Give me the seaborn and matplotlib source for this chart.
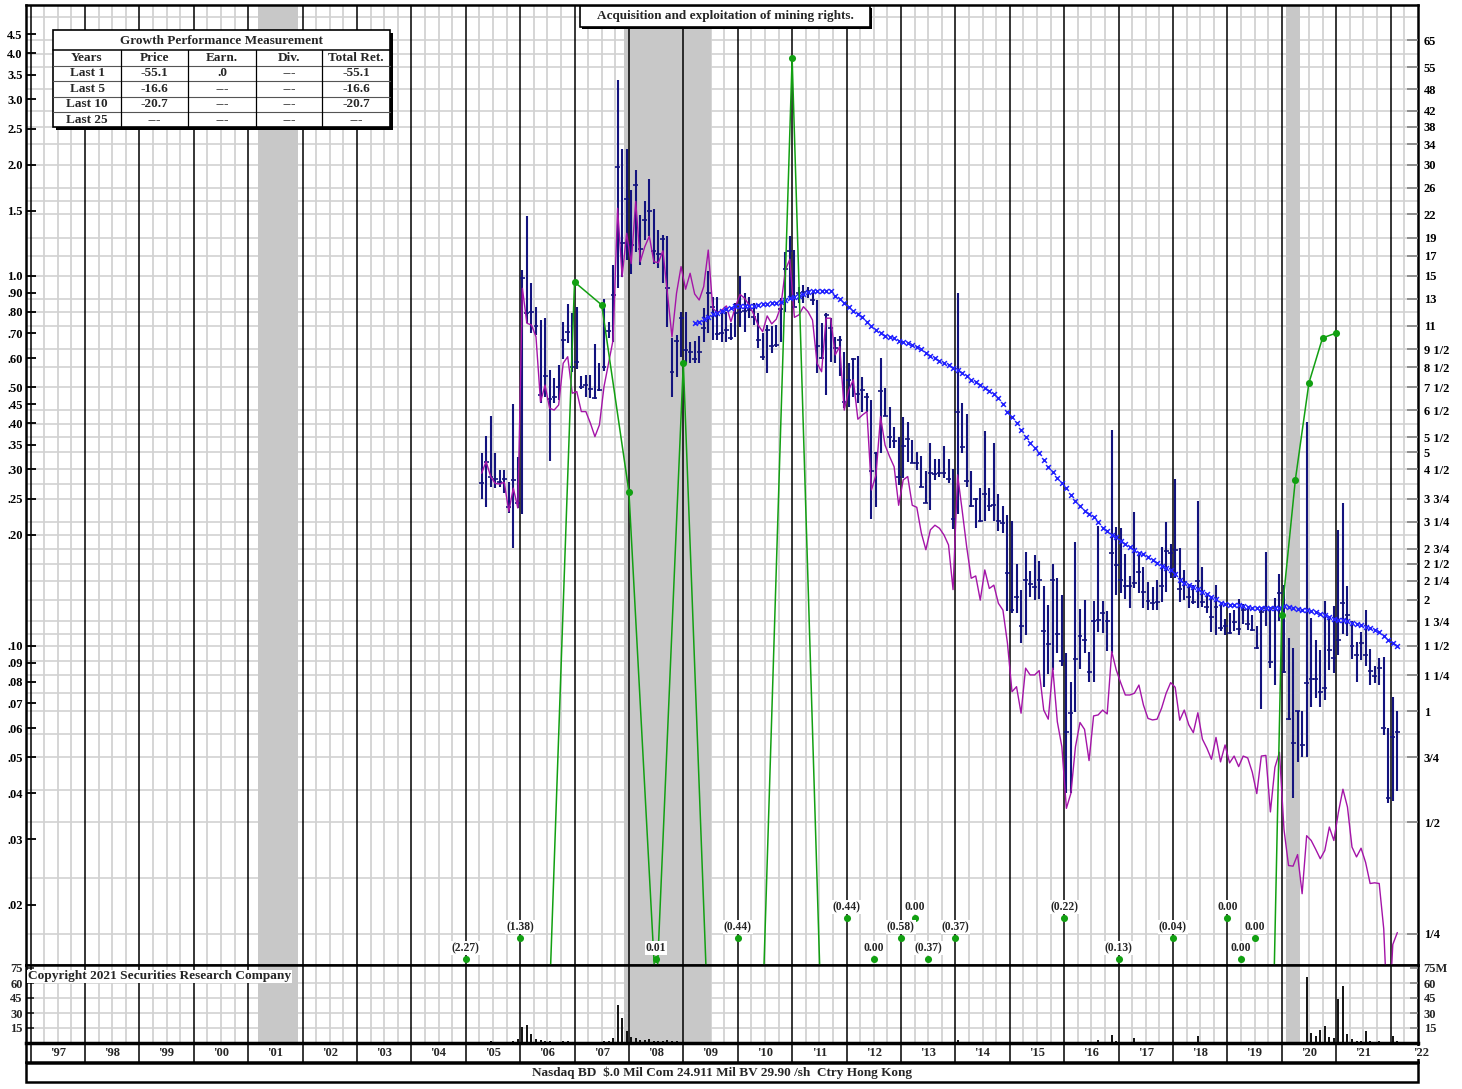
import numpy as np
import pandas as pd
import matplotlib
matplotlib.use("Agg")
import matplotlib.pyplot as plt
from matplotlib.patches import Rectangle
from matplotlib.ticker import NullLocator, NullFormatter
import seaborn as sns

# ---------------------------------------------------------
# Data (monthly bars from Apr 2005)
# ---------------------------------------------------------
FIRST_MONTH = "2005-04"

bar_high = [
    .333, .369, .419, .333, .299, .299, .278, .450, .325, 1.04,
    1.45, .955, .826, .760, .769, .557, .529, .575, .750, .840,
    .793, .823, .538, .540, .540, .654, .583, .867, .753, 1.07,
    3.39, 2.20, 2.20, 1.71, 1.93, 1.46, 1.59, 1.83, 1.52, 1.33,
    1.29, 1.28, .681, .693, .801, .801, .665, .667, .689, .818,
    1.034, .879, .879, .809, .801, .745, .844, 1.0, .898, .879,
    .844, .796, .700, .736, .733, .737, .871, 1.16, 1.28, 1.175,
    .936, .945, .932, .898, .861, .748, .793, .769, .685, .689,
    .624, .581, .599, .608, .532, .484, .462, .335, .599, .497,
    .442, .390, .368, .417, .404, .360, .335, .326, .297, .354,
    .320, .321, .347, .321, .300, .901, .453, .423, .297, .251,
    .267, .382, .267, .353, .258, .239, .226, .218, .167, .142,
    .180, .159, .176, .170, .145, .129, .167, .153, .137, .0955,
    .080, .191, .126, .133, .0966, .132, .211, .132, .124, .384,
    .210, .209, .177, .1546, .230, .180, .163, .149, .1446, .151,
    .1855, .216, .1886, .282, .1837, .160, .147, .146, .247, .163,
    .139, .1346, .146, .1315, .1183, .1227, .125, .1337, .130, .1255,
    .1212, .113, .125, .179, .127, .1346, .1568, .146, .1053, .0986,
    .0667, .0667, .403, .119, .104, .0975, .1321, .1203, .1285, .206,
    .2435, .145, .117, .1028, .109, .125, .098, .0883, .0926, .0932,
    .060, .0727, .0667,
]
bar_low = [
    .249, .237, .269, .267, .269, .259, .229, .184, .236, .227,
    .745, .700, .693, .453, .472, .316, .453, .462, .596, .658,
    .551, .560, .494, .470, .467, .464, .489, .553, .679, .663,
    .926, .996, 1.105, 1.01, 1.16, 1.07, 1.25, 1.28, 1.08, 1.05,
    .955, .730, .470, .532, .605, .581, .583, .581, .581, .665,
    .700, .671, .671, .665, .665, .671, .685, .730, .707, .769,
    .737, .638, .593, .548, .618, .644, .665, .801, .861, .826,
    .844, .844, .871, .835, .546, .596, .477, .587, .583, .535,
    .439, .443, .472, .455, .430, .430, .221, .237, .333, .419,
    .342, .342, .272, .284, .315, .312, .299, .269, .243, .233,
    .281, .287, .284, .275, .207, .227, .333, .269, .237, .208,
    .216, .217, .232, .218, .204, .202, .124, .1226, .1226, .1017,
    .107, .136, .133, .134, .0773, .084, .0861, .0955, .088, .040,
    .040, .0665, .0865, .0955, .080, .080, .109, .1085, .097, .0955,
    .137, .139, .134, .1264, .143, .139, .1264, .125, .125, .125,
    .1316, .140, .1524, .1524, .1316, .133, .1264, .130, .1264, .1277,
    .1226, .109, .107, .1096, .107, .1078, .1096, .107, .1143, .1104,
    .1096, .098, .0675, .113, .0873, .0786, .117, .0843, .063, .0388,
    .0486, .0501, .0501, .0686, .0724, .0683, .0716, .0863, .0843, .0948,
    .1078, .1066, .0921, .080, .0915, .0883, .0782, .0795, .0786, .0573,
    .0376, .038, .0406,
]
bar_close = [
    .275, .315, .287, .282, .277, .282, .237, .281, .243, .99,
    .793, .798, .734, .477, .538, .464, .472, .500, .671, .707,
    .567, .584, .502, .507, .496, .467, .492, .569, .710, .889,
    1.975, 1.225, 1.61, 1.21, 1.76, 1.18, 1.42, 1.50, 1.17, 1.15,
    1.26, .926, .551, .669, .769, .631, .624, .596, .624, .722,
    .901, .823, .696, .700, .715, .679, .793, .801, .806, .809,
    .776, .671, .605, .715, .647, .650, .813, 1.047, 1.166, .826,
    .898, .907, .910, .861, .647, .600, .785, .725, .638, .671,
    .456, .524, .596, .480, .492, .470, .297, .333, .489, .419,
    .368, .359, .287, .348, .362, .313, .313, .269, .244, .293,
    .291, .294, .293, .282, .220, .430, .346, .280, .239, .250,
    .218, .258, .239, .240, .218, .215, .157, .125, .136, .113,
    .151, .147, .144, .151, .110, .101, .151, .108, .0913, .0587,
    .066, .092, .1066, .104, .0852, .117, .1175, .1226, .1167, .178,
    .1656, .151, .1455, .145, .148, .158, .140, .132, .1304, .1316,
    .1455, .181, .178, .1817, .1423, .149, .136, .1316, .150, .1316,
    .1277, .120, .1277, .1116, .113, .1086, .1162, .111, .125, .1143,
    .1104, .0989, .1232, .127, .0904, .127, .1394, .0853, .0634, .0547,
    .0667, .054, .0795, .0814, .0814, .075, .0768, .0975, .0926, .104,
    .131, .1212, .0998, .0943, .1016, .0946, .0857, .0827, .0873, .060,
    .0388, .0569, .0586,
]
# magenta relative line, one value per bar
rel_line = [
    .293, .315, .287, .275, .274, .277, .231, .267, .236, .926,
    .745, .737, .685, .457, .507, .439, .434, .448, .581, .605,
    .482, .487, .430, .430, .400, .368, .396, .502, .581, .671,
    1.524, .996, 1.304, 1.08, 1.59, 1.093, 1.20, 1.28, 1.093, 1.086,
    1.17, .898, .685, .898, 1.06, .921, 1.017, .894, .861, .936,
    1.175, .818, .796, .809, .830, .752, .826, .892, .871, .835,
    .789, .737, .707, .780, .742, .764, .826, 1.038, 1.11, .773,
    .785, .826, .801, .760, .581, .551, .769, .769, .612, .644,
    .434, .492, .524, .410, .421, .430, .264, .290, .417, .349,
    .325, .305, .240, .281, .287, .240, .237, .202, .182, .206,
    .212, .208, .1995, .1875, .142, .290, .233, .1855, .1524, .1546,
    .133, .1605, .143, .146, .1304, .125, .1017, .0752, .0776, .0658,
    .0871, .0835, .0835, .0858, .0671, .0634, .0871, .0624, .0534, .0364,
    .040, .0534, .0621, .0595, .049, .0647, .0651, .0671, .0655, .0966,
    .0861, .0794, .0737, .0737, .0745, .0784, .0692, .0637, .0631, .0634,
    .0679, .0745, .0796, .0773, .063, .0671, .0612, .0583, .066, .056,
    .0529, .0494, .0566, .0486, .054, .0483, .0504, .0472, .0504, .0498,
    .0456, .0399, .0504, .0506, .0356, .047, .0516, .0319, .0255, .0254,
    .0273, .0214, .0307, .0298, .0282, .0266, .028, .0324, .0298, .0355,
    .041, .0367, .0286, .0269, .0284, .026, .0228, .0229, .0228, .0172,
    .009, .0156, .0168,
]
# blue x moving average, starts Mar 2009
MA_FIRST_MONTH = "2009-03"
ma_line = [
    .745, .752, .764, .776, .789, .796, .806, .813, .821, .830,
    .831, .831, .831, .831, .835, .838, .840, .844, .847, .852,
    .861, .871, .876, .883, .892, .907, .913, .913, .913, .913,
    .913, .883, .865, .844, .826, .806, .789, .773, .752, .733,
    .715, .700, .689, .685, .679, .667, .661, .658, .651, .644,
    .634, .621, .609, .599, .590, .581, .575, .563, .557, .546,
    .535, .524, .516, .507, .497, .489, .480, .467, .450, .430,
    .415, .400, .384, .368, .353, .342, .333, .318, .305, .296,
    .284, .276, .267, .256, .247, .239, .232, .227, .223, .216,
    .209, .204, .200, .197, .1926, .1886, .1848, .1817, .1788, .1774,
    .1743, .1708, .1673, .1645, .1622, .1605, .1565, .151, .148, .146,
    .144, .1423, .140, .138, .1354, .1337, .131, .130, .129, .129,
    .1294, .1285, .1276, .127, .1264, .1264, .127, .1264, .127, .127,
    .128, .1276, .1264, .1255, .125, .125, .124, .1232, .122, .1212,
    .1198, .1183, .1175, .1175, .117, .1156, .1143, .1138, .1122, .1116,
    .1104, .109, .1066, .104, .1017, .100,
]
# volume, millions of shares
volume = [
    1, 1, 2, 1, 1, 1, 1, 2, 4, 16,
    18, 9, 4, 3, 2, 2, 1, 1, 2, 2,
    1, 1, 1, 1, 1, 1, 1, 2, 2, 5,
    38, 25, 12, 6, 5, 3, 3, 4, 2, 2,
    2, 3, 2, 2, 1, 1, 1, 1, 1, 1,
    1, 1, 0, 1, 0, 0, 1, 0, 0, 1,
    0, 0, 1, 0, 0, 0, 0, 1, 1, 0,
    0, 0, 0, 0, 0, 0, 1, 1, 0, 0,
    1, 0, 0, 0, 0, 0, 1, 0, 0, 0,
    0, 0, 0, 0, 0, 0, 0, 0, 0, 0,
    0, 0, 0, 0, 1, 3, 1, 0, 0, 0,
    0, 0, 0, 0, 0, 0, 0, 0, 0, 0,
    0, 0, 0, 0, 0, 0, 0, 0, 0, 0,
    0, 1, 0, 0, 0, 0, 3, 0, 0, 8,
    2, 0, 0, 0, 5, 1, 0, 0, 0, 0,
    0, 0, 1, 0, 0, 0, 0, 0, 7, 0,
    0, 0, 0, 0, 1, 0, 0, 0, 0, 0,
    0, 0, 1, 0, 0, 0, 0, 0, 0, 0,
    0, 0, 66, 10, 7, 13, 17, 6, 5, 44,
    57, 9, 4, 2, 2, 12, 2, 1, 2, 1,
    1, 7, 2,
]

# green earnings line (off-scale points sit below the panel)
earn_dates = [2005.0, 2006.0, 2007.0, 2007.5, 2008.0, 2008.5, 2009.0, 2010.0, 2011.0,
              2012.0, 2012.5, 2013.0, 2013.25, 2013.5, 2014.0, 2016.0, 2017.0, 2018.0,
              2019.0, 2019.25, 2019.5, 2020.0, 2020.25, 2020.5, 2020.75, 2021.0]
earn_level = [6e-5, 6e-5, 0.963, 0.835, 0.261, 0.011, 0.581, 7e-5, 3.88,
              5.5e-5, 5e-5, 5e-5, 5e-5, 5e-5, 5e-5, 5e-5, 5e-5, 5e-5,
              5e-5, 5e-5, 4e-5, 0.121, 0.281, 0.514, 0.680, 0.701]

# labelled earnings dots along the bottom
eps_dates = [2005.0, 2006.0, 2008.5, 2010.0, 2012.0, 2012.5, 2013.0, 2013.25,
             2013.5, 2014.0, 2016.0, 2017.0, 2018.0, 2019.0, 2019.25, 2019.5]
eps_text = ["(2.27)", "(1.38)", "0.01", "(0.44)", "(0.44)", "0.00", "(0.58)", "0.00",
            "(0.37)", "(0.37)", "(0.22)", "(0.13)", "(0.04)", "0.00", "0.00", "0.00"]
eps_row = [0, 1, 0, 1, 2, 0, 1, 2, 0, 1, 2, 0, 1, 2, 0, 1]

recessions = [(2001.18, 2001.92), (2007.91, 2009.51), (2020.08, 2020.34)]

left_ticks = [4.5, 4.0, 3.5, 3.0, 2.5, 2.0, 1.5, 1.0, .90, .80, .70, .60, .50, .45, .40,
              .35, .30, .25, .20, .10, .09, .08, .07, .06, .05, .04, .03, .02]
right_ticks = [65, 55, 48, 42, 38, 34, 30, 26, 22, 19, 17, 15, 13, 11, 9.5, 8.5, 7.5, 6.5,
               5.5, 5, 4.5, 3.75, 3.25, 2.75, 2.5, 2.25, 2, 1.75, 1.5, 1.25, 1, .75, .5, .25]
right_labels = ["65", "55", "48", "42", "38", "34", "30", "26", "22", "19", "17", "15", "13",
                "11", "9 1/2", "8 1/2", "7 1/2", "6 1/2", "5 1/2", "5", "4 1/2", "3 3/4",
                "3 1/4", "2 3/4", "2 1/2", "2 1/4", "2", "1 3/4", "1 1/2", "1 1/4", "1",
                "3/4", "1/2", "1/4"]

perf_years = ["Last 1", "Last 5", "Last 10", "Last 25"]
perf_price = ["-55.1", "-16.6", "-20.7", "---"]
perf_earn = [".0", "---", "---", "---"]
perf_div = ["---", "---", "---", "---"]
perf_total = ["-55.1", "-16.6", "-20.7", "---"]

# ---------------------------------------------------------
# Style
# ---------------------------------------------------------
sns.set_theme(style="white")
plt.rcParams['font.family'] = ['Liberation Serif', 'DejaVu Serif']
plt.rcParams['font.weight'] = 'bold'

NAVY = '#13137e'
MAG = '#a414a8'
GREEN = '#12a012'
BLUE = '#2222ff'
SHADE = '#c8c8c8'
GRID = '#d2d2d2'
FS = 9.5      # boxed text
TICK_FS = 9   # axis labels

per = pd.period_range(FIRST_MONTH, periods=len(bar_high), freq='M')
dates = per.year.values + (per.month.values - 0.5) / 12
per_ma = pd.period_range(MA_FIRST_MONTH, periods=len(ma_line), freq='M')
ma_dates = per_ma.year.values + (per_ma.month.values - 0.5) / 12

W, H = 1462, 1089
fig = plt.figure(figsize=(W / 100, H / 100), dpi=100)


def px_box(x0, y0, x1, y1):
    return [x0 / W, 1 - y1 / H, (x1 - x0) / W, (y1 - y0) / H]


ax = fig.add_axes(px_box(26, 5, 1418, 965))
axv = fig.add_axes(px_box(26, 965, 1418, 1043), sharex=ax)
axy = fig.add_axes(px_box(26, 1043, 1418, 1062), sharex=ax)

YLO, YHI = 0.01373, 5.40
ax.set_xlim(1996.917, 2022.505)
ax.set_yscale('log')
ax.set_ylim(YLO, YHI)
axv.set_ylim(0, 78)
axy.set_ylim(0, 1)

# grid, then recession shading, then year lines
grid_r = sorted(right_ticks + [75])
levels = list(grid_r)
for a, b in zip(grid_r[:-1], grid_r[1:]):
    if np.log10(b / a) * 370 > 24:
        levels.append(np.sqrt(a * b))
for v in levels:
    ax.axhline(v / 15, color=GRID, lw=1.2, zorder=0.4)
for v in (15, 30, 45, 60):
    axv.axhline(v, color=GRID, lw=1.2, zorder=0.4)

for a in (ax, axv):
    for yr in range(1997, 2023):
        for q in (0.25, 0.5, 0.75):
            if yr + q < 2022.5:
                a.axvline(yr + q, color=GRID, lw=1.3, zorder=0.45)
    for s, e in recessions:
        a.axvspan(s, e, color=SHADE, lw=0, zorder=0.5)
    for yr in range(1997, 2023):
        a.axvline(yr, color='black', lw=1.1, zorder=0.7)

# price bars
ax.vlines(dates, bar_low, bar_high, color=NAVY, lw=1.5, zorder=3)
ax.hlines(bar_close, dates - 0.045, dates + 0.045, color=NAVY, lw=1.2, zorder=3)

# magenta line
sns.lineplot(x=dates, y=rel_line, ax=ax, color=MAG, lw=1.0, zorder=3.5,
             estimator=None, legend=False)

# moving average
sns.scatterplot(x=ma_dates, y=ma_line, ax=ax, marker='x', color=BLUE, s=12,
                linewidth=1.1, zorder=4, legend=False)

# earnings line
sns.lineplot(x=earn_dates, y=earn_level, ax=ax, color=GREEN, lw=1.1, zorder=4.5,
             estimator=None, legend=False)
ed = np.array(earn_dates)
el = np.array(earn_level)
vis = el > YLO
ax.scatter(ed[vis], el[vis], s=26, color=GREEN, zorder=5, lw=0)

# labelled earnings dots along the bottom
row_frac = [0.00625, 0.0281, 0.049]
tr = ax.get_xaxis_transform()
for d, t, r in zip(eps_dates, eps_text, eps_row):
    ax.scatter([d], [row_frac[r]], transform=tr, s=26, color=GREEN, zorder=5, lw=0,
               clip_on=False)
    ax.annotate(t, (d, row_frac[r]), xycoords=tr, xytext=(0, 8),
                textcoords='offset points', ha='center', va='center', fontsize=8.4,
                zorder=6, bbox=dict(boxstyle='square,pad=0.08', fc='white', ec='none'))

# volume
vol = np.array(volume, dtype=float)
m = vol > 0
axv.vlines(dates[m], 0, vol[m], color='black', lw=1.3, zorder=3)

# ---- axes / ticks ----
for a in (ax, axv, axy):
    a.tick_params(axis='x', which='both', bottom=False, top=False, labelbottom=False)
    for sp in a.spines.values():
        sp.set_color('black')
        sp.set_linewidth(1.8)

left_labels = [f"{v:.1f}" if v >= 1 else f"{v:.2f}"[1:] for v in left_ticks]
ax.set_yticks(left_ticks, labels=left_labels)
ax.yaxis.set_minor_locator(NullLocator())
ax.yaxis.set_minor_formatter(NullFormatter())
ax.tick_params(axis='y', direction='in', length=7, width=1.3, pad=2.5, labelsize=TICK_FS,
               colors='black')

ax2 = ax.twinx()
ax2.set_yscale('log')
ax2.set_ylim(YLO * 15, YHI * 15)
ax2.set_yticks(right_ticks, labels=right_labels)
ax2.yaxis.set_minor_locator(NullLocator())
ax2.yaxis.set_minor_formatter(NullFormatter())
ax2.tick_params(axis='y', direction='in', length=8, width=1.3, pad=4, labelsize=TICK_FS,
                color='#888888', labelcolor='black')
for sp in ax2.spines.values():
    sp.set_visible(False)

axv.set_yticks([15, 30, 45, 60, 75], labels=['15', '30', '45', '60', '75'])
axv.tick_params(axis='y', direction='in', length=6, width=1.2, pad=2.5, labelsize=TICK_FS)
axv2 = axv.twinx()
axv2.set_ylim(0, 78)
axv2.set_yticks([15, 30, 45, 60, 75], labels=['15', '30', '45', '60', '75M'])
axv2.tick_params(axis='y', direction='in', length=6, width=1.2, pad=4, labelsize=TICK_FS,
                 color='#888888')
for sp in axv2.spines.values():
    sp.set_visible(False)

# year strip
axy.set_yticks([])
for yr in range(1997, 2022):
    axy.axvline(yr, color='black', lw=1.1)
    axy.text(yr + 0.5, 0.45, "'" + str(yr)[2:], ha='center', va='center', fontsize=TICK_FS)
axy.spines['top'].set_linewidth(2.5)

# ---- overlay: table, title box, footer ----
ov = fig.add_axes([0, 0, 1, 1])
ov.set_xlim(0, W)
ov.set_ylim(H, 0)
ov.axis('off')
ov.set_zorder(20)
ov.patch.set_alpha(0)

ov.text(1421, 1052.5, "'22", ha='center', va='center', fontsize=TICK_FS,
        bbox=dict(boxstyle='square,pad=0.05', fc='white', ec='none'))

# performance table
ov.add_patch(Rectangle((55.5, 32.5), 337, 97, fc='black', ec='none'))
ov.add_patch(Rectangle((53, 30), 337, 97, fc='white', ec='black', lw=1.2))
ov.plot([53, 390], [50, 50], color='black', lw=1.1)
for yy in (65.5, 81, 96.5, 112):
    ov.plot([53, 390], [yy, yy], color='#555555', lw=0.8)
col_x = [120.7, 188, 256, 321.7]
for xx in col_x:
    ov.plot([xx, xx], [50, 127], color='black', lw=0.9)
ov.text(221.5, 41, "Growth Performance Measurement", ha='center', va='center', fontsize=FS)
centers = [87, 154, 222, 289, 356]
heads = ["Years", "Price", "Earn.", "Div.", "Total Ret."]
for cx, h in zip(centers, heads):
    ov.text(cx, 58, h, ha='center', va='center', fontsize=FS)
row_y = [73, 89, 104, 120]
for i, yy in enumerate(row_y):
    vals = [perf_years[i], perf_price[i], perf_earn[i], perf_div[i], perf_total[i]]
    for cx, v in zip(centers, vals):
        ov.text(cx, yy, v, ha='center', va='center', fontsize=FS)

# title box
ov.add_patch(Rectangle((582, 8), 290, 21, fc='black', ec='none'))
ov.add_patch(Rectangle((580, 6), 290, 21, fc='white', ec='black', lw=1.2))
ov.text(725, 16.5, "Acquisition and exploitation of mining rights.", ha='center',
        va='center', fontsize=FS)

# copyright
ov.text(28, 976.5, "Copyright 2021 Securities Research Company", ha='left', va='center',
        fontsize=9.6, bbox=dict(boxstyle='square,pad=0.05', fc='white', ec='none'))

# footer
ov.add_patch(Rectangle((26, 1063), 1392, 18.5, fc='white', ec='black', lw=1.8))
ov.text(722, 1072.5, "Nasdaq BD  $.0 Mil Com 24.911 Mil BV 29.90 /sh  Ctry Hong Kong",
        ha='center', va='center', fontsize=FS)

fig.savefig("out.png", dpi=100, facecolor='white')
